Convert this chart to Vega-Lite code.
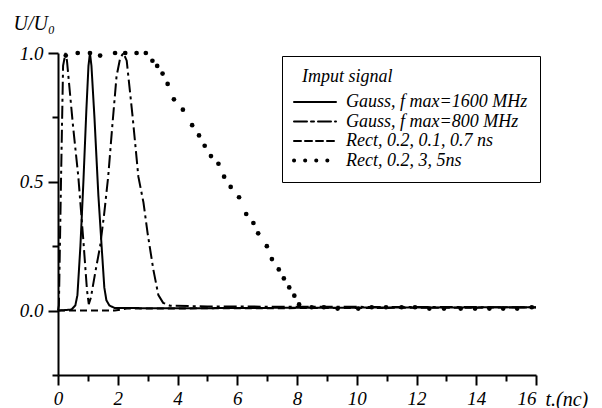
{
  "$schema": "https://vega.github.io/schema/vega-lite/v6.json",
  "autosize": {"type": "none"},
  "width": 478,
  "height": 322,
  "padding": {"left": 58, "top": 53, "right": 66, "bottom": 33},
  "background": "white",
  "config": {
    "view": {"stroke": null},
    "font": "Liberation Serif",
    "axis": {
      "domainColor": "black", "domainWidth": 2, "tickColor": "black", "tickWidth": 2,
      "grid": false, "labelFont": "Liberation Serif", "labelFontStyle": "italic",
      "labelFontSize": 19, "labelColor": "black", "titleFont": "Liberation Serif",
      "titleFontStyle": "italic", "titleFontWeight": "normal", "titleFontSize": 20, "titleColor": "black"
    },
    "legend": {
      "labelFont": "Liberation Serif", "labelFontStyle": "italic", "labelFontSize": 18, "labelColor": "black",
      "titleFont": "Liberation Serif", "titleFontStyle": "italic", "titleFontWeight": "normal", "titleFontSize": 18, "titleColor": "black"
    }
  },
  "data": {"values": [
    {"series": "Gauss, f max=1600 MHz", "t": 0, "u": 0},
    {"series": "Gauss, f max=1600 MHz", "t": 0.45, "u": 0.004},
    {"series": "Gauss, f max=1600 MHz", "t": 0.58, "u": 0.02},
    {"series": "Gauss, f max=1600 MHz", "t": 0.65, "u": 0.06},
    {"series": "Gauss, f max=1600 MHz", "t": 0.75, "u": 0.25},
    {"series": "Gauss, f max=1600 MHz", "t": 0.85, "u": 0.5},
    {"series": "Gauss, f max=1600 MHz", "t": 0.95, "u": 0.78},
    {"series": "Gauss, f max=1600 MHz", "t": 1.02, "u": 0.95},
    {"series": "Gauss, f max=1600 MHz", "t": 1.07, "u": 1.0},
    {"series": "Gauss, f max=1600 MHz", "t": 1.12, "u": 0.95},
    {"series": "Gauss, f max=1600 MHz", "t": 1.22, "u": 0.75},
    {"series": "Gauss, f max=1600 MHz", "t": 1.35, "u": 0.45},
    {"series": "Gauss, f max=1600 MHz", "t": 1.46, "u": 0.25},
    {"series": "Gauss, f max=1600 MHz", "t": 1.55, "u": 0.09},
    {"series": "Gauss, f max=1600 MHz", "t": 1.62, "u": 0.04},
    {"series": "Gauss, f max=1600 MHz", "t": 1.72, "u": 0.02},
    {"series": "Gauss, f max=1600 MHz", "t": 1.9, "u": 0.01},
    {"series": "Gauss, f max=1600 MHz", "t": 4, "u": 0.009},
    {"series": "Gauss, f max=1600 MHz", "t": 8, "u": 0.011},
    {"series": "Gauss, f max=1600 MHz", "t": 12, "u": 0.012},
    {"series": "Gauss, f max=1600 MHz", "t": 16, "u": 0.013},

    {"series": "Gauss, f max=800 MHz", "t": 0, "u": 0},
    {"series": "Gauss, f max=800 MHz", "t": 0.03, "u": 0.02},
    {"series": "Gauss, f max=800 MHz", "t": 0.1, "u": 0.5},
    {"series": "Gauss, f max=800 MHz", "t": 0.17, "u": 0.95},
    {"series": "Gauss, f max=800 MHz", "t": 0.25, "u": 1.0},
    {"series": "Gauss, f max=800 MHz", "t": 0.3, "u": 0.97},
    {"series": "Gauss, f max=800 MHz", "t": 0.5, "u": 0.72},
    {"series": "Gauss, f max=800 MHz", "t": 0.68, "u": 0.52},
    {"series": "Gauss, f max=800 MHz", "t": 0.85, "u": 0.27},
    {"series": "Gauss, f max=800 MHz", "t": 0.97, "u": 0.08},
    {"series": "Gauss, f max=800 MHz", "t": 1.03, "u": 0.025},
    {"series": "Gauss, f max=800 MHz", "t": 1.1, "u": 0.05},
    {"series": "Gauss, f max=800 MHz", "t": 1.25, "u": 0.15},
    {"series": "Gauss, f max=800 MHz", "t": 1.41, "u": 0.25},
    {"series": "Gauss, f max=800 MHz", "t": 1.55, "u": 0.38},
    {"series": "Gauss, f max=800 MHz", "t": 1.68, "u": 0.52},
    {"series": "Gauss, f max=800 MHz", "t": 1.82, "u": 0.72},
    {"series": "Gauss, f max=800 MHz", "t": 1.96, "u": 0.91},
    {"series": "Gauss, f max=800 MHz", "t": 2.08, "u": 0.98},
    {"series": "Gauss, f max=800 MHz", "t": 2.19, "u": 1.0},
    {"series": "Gauss, f max=800 MHz", "t": 2.3, "u": 0.97},
    {"series": "Gauss, f max=800 MHz", "t": 2.5, "u": 0.75},
    {"series": "Gauss, f max=800 MHz", "t": 2.69, "u": 0.52},
    {"series": "Gauss, f max=800 MHz", "t": 2.86, "u": 0.42},
    {"series": "Gauss, f max=800 MHz", "t": 3.0, "u": 0.3},
    {"series": "Gauss, f max=800 MHz", "t": 3.19, "u": 0.16},
    {"series": "Gauss, f max=800 MHz", "t": 3.36, "u": 0.06},
    {"series": "Gauss, f max=800 MHz", "t": 3.52, "u": 0.03},
    {"series": "Gauss, f max=800 MHz", "t": 3.75, "u": 0.019},
    {"series": "Gauss, f max=800 MHz", "t": 5, "u": 0.016},
    {"series": "Gauss, f max=800 MHz", "t": 8, "u": 0.015},
    {"series": "Gauss, f max=800 MHz", "t": 12, "u": 0.014},
    {"series": "Gauss, f max=800 MHz", "t": 16, "u": 0.013},

    {"series": "Rect, 0.2, 0.1, 0.7 ns", "t": 0, "u": 0},
    {"series": "Rect, 0.2, 0.1, 0.7 ns", "t": 1.9, "u": 0},
    {"series": "Rect, 0.2, 0.1, 0.7 ns", "t": 2.3, "u": 0.008},
    {"series": "Rect, 0.2, 0.1, 0.7 ns", "t": 16, "u": 0.012},

    {"series": "Rect, 0.2, 3, 5ns", "t": 0.26, "u": 0.99},
    {"series": "Rect, 0.2, 3, 5ns", "t": 0.66, "u": 1.0},
    {"series": "Rect, 0.2, 3, 5ns", "t": 1.07, "u": 1.0},
    {"series": "Rect, 0.2, 3, 5ns", "t": 1.41, "u": 0.99},
    {"series": "Rect, 0.2, 3, 5ns", "t": 1.91, "u": 1.0},
    {"series": "Rect, 0.2, 3, 5ns", "t": 2.25, "u": 1.0},
    {"series": "Rect, 0.2, 3, 5ns", "t": 2.63, "u": 1.0},
    {"series": "Rect, 0.2, 3, 5ns", "t": 2.94, "u": 1.0},
    {"series": "Rect, 0.2, 3, 5ns", "t": 3.16, "u": 0.97},
    {"series": "Rect, 0.2, 3, 5ns", "t": 3.32, "u": 0.95},
    {"series": "Rect, 0.2, 3, 5ns", "t": 3.5, "u": 0.92},
    {"series": "Rect, 0.2, 3, 5ns", "t": 3.67, "u": 0.88},
    {"series": "Rect, 0.2, 3, 5ns", "t": 3.88, "u": 0.82},
    {"series": "Rect, 0.2, 3, 5ns", "t": 4.18, "u": 0.78},
    {"series": "Rect, 0.2, 3, 5ns", "t": 4.49, "u": 0.72},
    {"series": "Rect, 0.2, 3, 5ns", "t": 4.72, "u": 0.68},
    {"series": "Rect, 0.2, 3, 5ns", "t": 4.91, "u": 0.64},
    {"series": "Rect, 0.2, 3, 5ns", "t": 5.12, "u": 0.6},
    {"series": "Rect, 0.2, 3, 5ns", "t": 5.37, "u": 0.57},
    {"series": "Rect, 0.2, 3, 5ns", "t": 5.56, "u": 0.52},
    {"series": "Rect, 0.2, 3, 5ns", "t": 5.78, "u": 0.48},
    {"series": "Rect, 0.2, 3, 5ns", "t": 6.06, "u": 0.44},
    {"series": "Rect, 0.2, 3, 5ns", "t": 6.3, "u": 0.375},
    {"series": "Rect, 0.2, 3, 5ns", "t": 6.54, "u": 0.34},
    {"series": "Rect, 0.2, 3, 5ns", "t": 6.7, "u": 0.3},
    {"series": "Rect, 0.2, 3, 5ns", "t": 6.99, "u": 0.25},
    {"series": "Rect, 0.2, 3, 5ns", "t": 7.16, "u": 0.2},
    {"series": "Rect, 0.2, 3, 5ns", "t": 7.39, "u": 0.16},
    {"series": "Rect, 0.2, 3, 5ns", "t": 7.56, "u": 0.125},
    {"series": "Rect, 0.2, 3, 5ns", "t": 7.74, "u": 0.09},
    {"series": "Rect, 0.2, 3, 5ns", "t": 7.91, "u": 0.058},
    {"series": "Rect, 0.2, 3, 5ns", "t": 8.07, "u": 0.024},
    {"series": "Rect, 0.2, 3, 5ns", "t": 8.49, "u": 0.013},
    {"series": "Rect, 0.2, 3, 5ns", "t": 8.9, "u": 0.013},
    {"series": "Rect, 0.2, 3, 5ns", "t": 9.36, "u": 0.008},
    {"series": "Rect, 0.2, 3, 5ns", "t": 10.05, "u": 0.008},
    {"series": "Rect, 0.2, 3, 5ns", "t": 10.5, "u": 0.013},
    {"series": "Rect, 0.2, 3, 5ns", "t": 10.98, "u": 0.013},
    {"series": "Rect, 0.2, 3, 5ns", "t": 11.5, "u": 0.013},
    {"series": "Rect, 0.2, 3, 5ns", "t": 11.95, "u": 0.013},
    {"series": "Rect, 0.2, 3, 5ns", "t": 12.43, "u": 0.008},
    {"series": "Rect, 0.2, 3, 5ns", "t": 12.92, "u": 0.008},
    {"series": "Rect, 0.2, 3, 5ns", "t": 13.48, "u": 0.008},
    {"series": "Rect, 0.2, 3, 5ns", "t": 13.96, "u": 0.008},
    {"series": "Rect, 0.2, 3, 5ns", "t": 14.44, "u": 0.008},
    {"series": "Rect, 0.2, 3, 5ns", "t": 14.9, "u": 0.008},
    {"series": "Rect, 0.2, 3, 5ns", "t": 15.37, "u": 0.008},
    {"series": "Rect, 0.2, 3, 5ns", "t": 15.86, "u": 0.013}
  ]},
  "encoding": {
    "x": {
      "field": "t", "type": "quantitative",
      "scale": {"domain": [0, 16], "nice": false, "zero": false},
      "axis": {
        "title": "t.(nc)", "titleX": 487, "titleY": 30, "titleAnchor": "start", "titleAlign": "left", "titleBaseline": "alphabetic",
        "values": [0,1,2,3,4,5,6,7,8,9,10,11,12,13,14,15,16],
        "labelExpr": "datum.value % 2 == 0 ? datum.label : ''",
        "labelAlign": {"condition": {"test": "datum.value == 16", "value": "right"}, "value": "center"},
        "tickSize": {"condition": {"test": "datum.value % 2 == 0", "value": 10}, "value": 6},
        "labelPadding": 4, "labelFlush": false, "labelOverlap": false
      }
    },
    "y": {
      "field": "u", "type": "quantitative",
      "scale": {"domain": [-0.25, 1.0], "nice": false, "zero": false},
      "axis": {
        "title": "U/U₀", "titleAngle": 0, "titleX": -45, "titleY": -24, "titleAlign": "left", "titleBaseline": "alphabetic",
        "values": [-0.25, 0, 0.25, 0.5, 0.75, 1.0],
        "labelExpr": "datum.value % 0.5 == 0 ? format(datum.value, '.1f') : ''",
        "tickSize": {"condition": {"test": "datum.value % 0.5 == 0", "value": 10}, "value": 6},
        "labelPadding": 5, "labelFlush": false, "labelOverlap": false
      }
    }
  },
  "layer": [
    {
      "transform": [{"filter": "datum.series !== 'Rect, 0.2, 3, 5ns'"}],
      "mark": {"type": "line", "color": "black", "strokeWidth": 2},
      "encoding": {
        "strokeDash": {
          "field": "series", "type": "nominal",
          "scale": {
            "domain": ["Gauss, f max=1600 MHz", "Gauss, f max=800 MHz", "Rect, 0.2, 0.1, 0.7 ns", "Rect, 0.2, 3, 5ns"],
            "range": [[1, 0], [13, 4, 3, 4], [7, 4], [0.1, 11]]
          },
          "legend": {
            "title": "Imput signal",
            "orient": "none", "legendX": 224, "legendY": 3,
            "symbolType": "stroke", "symbolSize": 1764, "symbolStrokeWidth": 2, "symbolStrokeColor": "black",
            "symbolOffset": 12, "labelLimit": 400,
            "strokeColor": "black", "fillColor": "white", "padding": 12, "rowPadding": 1.5, "labelOffset": 22, "titlePadding": 7,
            "encode": {
              "symbols": {"update": {
                "strokeCap": {"value": "round"},
                "strokeWidth": {"signal": "datum.value === 'Rect, 0.2, 3, 5ns' ? 4 : 2"}
              }},
              "title": {"update": {"dx": {"value": 8}}}
            }
          }
        }
      }
    },
    {
      "transform": [{"filter": "datum.series === 'Rect, 0.2, 3, 5ns'"}],
      "mark": {"type": "point", "filled": true, "color": "black", "size": 22, "opacity": 1, "shape": "circle"}
    }
  ]
}
